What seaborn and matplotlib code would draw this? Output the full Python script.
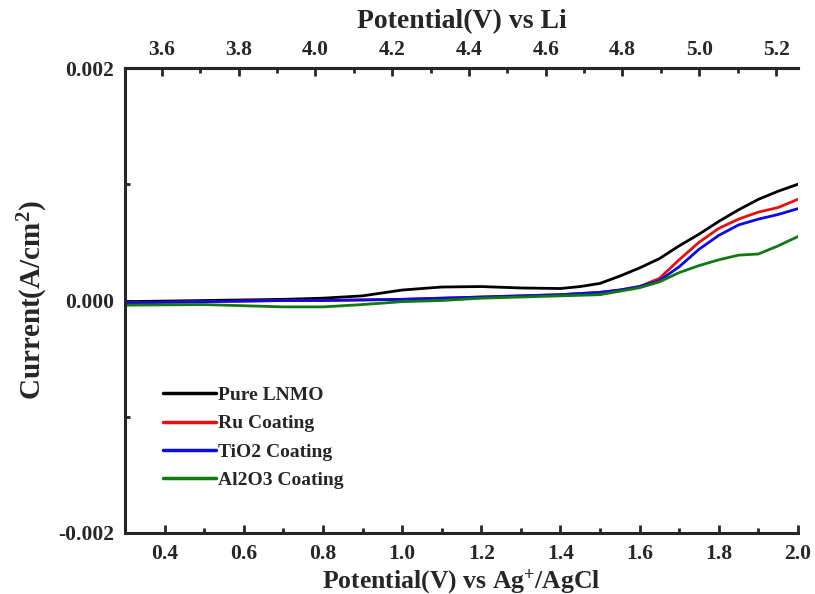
"""
Linear sweep voltammetry of coated / uncoated LNMO cathodes.
"""
import pandas as pd
import matplotlib.pyplot as plt
import seaborn as sns
from matplotlib.ticker import MultipleLocator, FixedLocator

# === DATA ===
POTENTIAL = [0.3, 0.5, 0.7, 0.8, 0.9, 1.0, 1.1, 1.2, 1.3, 1.4, 1.45, 1.5, 1.55,
             1.6, 1.65, 1.7, 1.75, 1.8, 1.85, 1.9, 1.95, 2.0]

PURE_LNMO = [-0.00001, 0.0, 0.00001, 0.00002, 0.00004, 0.00009, 0.000116, 0.00012,
             0.000108, 0.000103, 0.00012, 0.000147, 0.00021, 0.00028, 0.00036,
             0.00047, 0.00057, 0.00068, 0.00078, 0.00087, 0.00094, 0.001]
RU_COATING = [-0.00002, -0.00001, 0.0, 0.0, 0.000005, 0.00001, 0.00002, 0.00003,
              0.00004, 0.00005, 0.00006, 0.00007, 0.00009, 0.00012, 0.00019,
              0.00035, 0.0005, 0.00062, 0.0007, 0.00076, 0.0008, 0.00087]
TIO2_COATING = [-0.00002, -0.00001, 0.0, 0.0, 0.000005, 0.00001, 0.00002, 0.00003,
                0.00004, 0.00005, 0.00006, 0.00007, 0.00009, 0.00012, 0.00017,
                0.00029, 0.00044, 0.00056, 0.00065, 0.0007, 0.00074, 0.00079]
AL2O3_COATING = [-0.00004, -0.000035, -0.000055, -0.000055, -0.000035, -0.00001,
                 0.0, 0.00002, 0.00003, 0.00004, 0.000045, 0.00005, 0.00008,
                 0.00011, 0.00016, 0.00024, 0.0003, 0.00035, 0.00039, 0.0004,
                 0.00047, 0.00055]

SERIES = ["Pure LNMO", "Ru Coating", "TiO2 Coating", "Al2O3 Coating"]
COLORS = {"Pure LNMO": "#000000", "Ru Coating": "#e41010",
          "TiO2 Coating": "#0a0ae6", "Al2O3 Coating": "#107a10"}

# top axis (vs Li) limits matching the bottom axis (vs Ag+/AgCl)
X_LIM = (0.3, 2.0)
X_LIM_LI = (3.504, 5.257)
Y_TICKS = [-0.002, 0.0, 0.002]
Y_TICK_LABELS = ["-0.002", "0.000", "0.002"]


def build_frame():
    frames = []
    for name, values in zip(SERIES, [PURE_LNMO, RU_COATING, TIO2_COATING, AL2O3_COATING]):
        frames.append(pd.DataFrame({"potential": POTENTIAL, "current": values, "sample": name}))
    return pd.concat(frames, ignore_index=True)


def main():
    sns.set_style("ticks")
    plt.rcParams["font.family"] = ["Liberation Serif", "DejaVu Serif"]
    plt.rcParams["font.weight"] = "bold"
    plt.rcParams["mathtext.default"] = "regular"

    df = build_frame()

    fig = plt.figure(figsize=(8.15, 5.94), dpi=100)
    ax = fig.add_axes([0.1534, 0.1027, 0.8256, 0.7828])

    sns.lineplot(data=df, x="potential", y="current", hue="sample", hue_order=SERIES,
                 palette=COLORS, linewidth=2.0, ax=ax)

    ax.set_xlim(*X_LIM)
    ax.set_ylim(-0.002, 0.002)
    ax.xaxis.set_major_locator(MultipleLocator(0.2))
    ax.xaxis.set_minor_locator(MultipleLocator(0.1))
    ax.yaxis.set_major_locator(FixedLocator(Y_TICKS))
    ax.set_yticklabels(Y_TICK_LABELS)
    ax.yaxis.set_minor_locator(FixedLocator([-0.001, 0.001]))

    for side in ["left", "bottom", "top"]:
        ax.spines[side].set_linewidth(2.2)
    ax.spines["right"].set_visible(False)
    ax.tick_params(which="both", direction="in", width=2, labelsize=15.5, pad=8)
    ax.tick_params(which="major", length=6)
    ax.tick_params(which="minor", length=3.5)
    for lab in ax.get_xticklabels() + ax.get_yticklabels():
        lab.set_fontweight("bold")

    ax.set_xlabel("Potential(V) vs Ag$^{+}$/AgCl", fontsize=18.5, fontweight="bold", labelpad=2)
    ax.set_ylabel("Current(A/cm$^{2}$)", fontsize=21, fontweight="bold", labelpad=6)

    # secondary potential scale vs Li on top
    top = ax.twiny()
    top.set_xlim(*X_LIM_LI)
    top.xaxis.set_major_locator(MultipleLocator(0.2))
    top.xaxis.set_minor_locator(MultipleLocator(0.1))
    top.spines["right"].set_visible(False)
    top.spines["top"].set_linewidth(2.2)
    top.tick_params(which="both", direction="in", width=2, labelsize=15.5, pad=6)
    top.tick_params(which="major", length=6)
    top.tick_params(which="minor", length=3.5)
    top.set_xlabel("Potential(V) vs Li", fontsize=20, fontweight="bold", labelpad=8)

    leg = ax.legend(loc="upper left", bbox_to_anchor=(0.045, 0.332), frameon=False,
                    prop={"size": 14, "weight": "bold"}, handlelength=2.7,
                    handletextpad=0.15, labelspacing=0.55, borderaxespad=0)
    for line in leg.get_lines():
        line.set_linewidth(2.5)

    fig.savefig("out.png", dpi=100)
    plt.close(fig)


if __name__ == "__main__":
    main()
